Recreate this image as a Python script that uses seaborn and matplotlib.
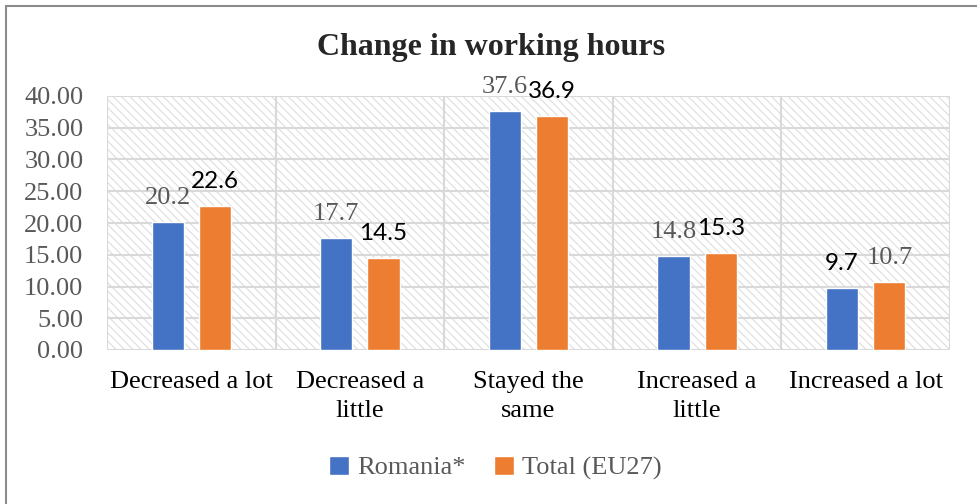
import pandas as pd
import seaborn as sns
import matplotlib.pyplot as plt
from matplotlib.patches import Rectangle
from matplotlib.lines import Line2D

# --- Data ---
categories = ["Decreased a lot", "Decreased a\nlittle", "Stayed the\nsame",
              "Increased a\nlittle", "Increased a lot"]
series = ["Romania*", "Total (EU27)"]
romania = [20.2, 17.7, 37.6, 14.8, 9.7]
total_eu27 = [22.6, 14.5, 36.9, 15.3, 10.7]
y_ticks = [0, 5, 10, 15, 20, 25, 30, 35, 40]

df = pd.DataFrame({
    "category": categories * 2,
    "series": [series[0]] * len(categories) + [series[1]] * len(categories),
    "value": romania + total_eu27,
})

# label styling as seen in the source: serif grey vs sans black
label_sans = [[False, False, False, False, True],
              [True, True, True, True, False]]

BLUE = "#4472C4"
ORANGE = "#ED7D31"
GRID = "#D9D9D9"
SERIF = "Liberation Serif"
SANS = "Lato"

sns.set_style("white")
plt.rcParams["font.family"] = [SERIF, "DejaVu Sans"]
plt.rcParams["hatch.linewidth"] = 0.8

fig = plt.figure(figsize=(9.77, 5.04), dpi=100)
ax = fig.add_axes([107 / 977, 1 - 350 / 504, (950 - 107) / 977, (350 - 96) / 504])

# hatched plot background
bg = Rectangle((0, 0), 1, 1, transform=ax.transAxes, facecolor="white",
               edgecolor="#DEDEDE", hatch="\\\\\\\\", lw=0, zorder=0)
ax.add_patch(bg)

sns.barplot(data=df, x="category", y="value", hue="series",
            palette=[BLUE, ORANGE], saturation=1, width=0.56, gap=0.32,
            errorbar=None, ax=ax, zorder=3)

ax.set_xlim(-0.5, len(categories) - 0.5)
ax.set_ylim(0, 40)
ax.set_yticks(y_ticks)
ax.set_yticklabels([f"{v:.2f}" for v in y_ticks])
ax.set_xticks(range(len(categories)))
ax.set_xticklabels(categories, linespacing=1.45)
ax.set_xticks([i - 0.5 for i in range(len(categories) + 1)], minor=True)
ax.set_axisbelow(True)
ax.grid(axis="y", which="major", color=GRID, lw=1.5, zorder=1)
ax.grid(axis="x", which="minor", color=GRID, lw=1.5, zorder=1)
ax.grid(axis="x", which="major", visible=False)
ax.tick_params(axis="both", which="both", length=0)
ax.tick_params(axis="y", labelsize=19, labelcolor="#595959", pad=17)
ax.tick_params(axis="x", labelsize=19, labelcolor="black", pad=15)
for s in ax.spines.values():
    s.set_visible(False)
ax.set_xlabel("")
ax.set_ylabel("")

# data labels
for si, cont in enumerate(ax.containers):
    for ci, bar in enumerate(cont):
        h = bar.get_height()
        x = bar.get_x() + bar.get_width() / 2
        if label_sans[si][ci]:
            kw = dict(family=SANS, color="black", size=17.5)
        else:
            kw = dict(family=SERIF, color="#595959", size=19)
        ax.annotate(f"{h:.1f}", (x, h), xytext=(0, 13), textcoords="offset points",
                    ha="center", va="baseline", **kw)

# legend
handles, labels = ax.get_legend_handles_labels()
ax.legend(handles, labels, loc="center", bbox_to_anchor=(0.507, 0.072),
          bbox_transform=fig.transFigure, ncol=2, frameon=False,
          handlelength=0.75, handleheight=0.75, handletextpad=0.3,
          columnspacing=1.1, prop={"family": SERIF, "size": 19},
          labelcolor="#595959")

fig.text(0.503, 1 - 47 / 504, "Change in working hours", ha="center", va="center",
         fontsize=23, fontweight="bold", family=SERIF)

# outer frame (top and left only)
fig.add_artist(Line2D([6 / 977, 1], [1 - 6 / 504, 1 - 6 / 504],
                      transform=fig.transFigure, color="#8C8C8C", lw=1.5))
fig.add_artist(Line2D([6 / 977, 6 / 977], [0, 1 - 6 / 504],
                      transform=fig.transFigure, color="#8C8C8C", lw=1.5))

fig.savefig("out.png", dpi=100)
